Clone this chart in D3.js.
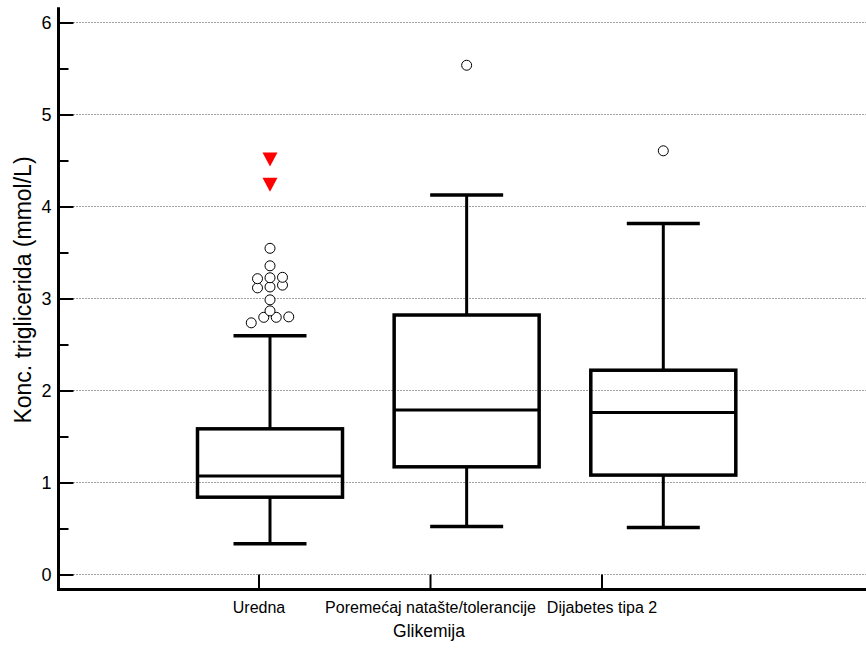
<!DOCTYPE html>
<html>
<head>
<meta charset="utf-8">
<script src="https://cdn.jsdelivr.net/npm/d3@7"></script>
<style>
  body { margin: 0; background: #fff; }
  svg { display: block; font-family: "Liberation Sans", Arial, sans-serif; }
</style>
</head>
<body>
<svg id="chart" width="866" height="648"></svg>
<script>
// ---- data ----
const categories = ["Uredna", "Poremećaj natašte/tolerancije", "Dijabetes tipa 2"];
const lowerWhisker = [0.33, 0.515, 0.505];
const q1 = [0.835, 1.165, 1.075];
const median = [1.065, 1.783, 1.755];
const q3 = [1.578, 2.815, 2.215];
const upperWhisker = [2.59, 4.12, 3.81];
const outliers = [
  [2.73, 2.79, 2.79, 2.795, 2.86, 2.98, 3.11, 3.12, 3.14, 3.21, 3.22, 3.225, 3.35, 3.54],
  [5.53],
  [4.60]
];
const extremes = [[4.23, 4.505], [], []];
const yTicks = [0, 1, 2, 3, 4, 5, 6];
const yMinorTicks = [0.5, 1.5, 2.5, 3.5, 4.5, 5.5];
const yTitle = "Konc. triglicerida (mmol/L)";
const xTitle = "Glikemija";

// ---- layout ----
const svg = d3.select("#chart");
const axisX = 58.5, axisY = 589.5, rightEdge = 866;
const y = d3.scaleLinear().domain([0, 6]).range([574, 22]);
const yTop = y(6.16);
const idx = categories.map((d, i) => i);
const xBox = d3.scaleLinear().domain([0, 2]).range([270, 663.3]);
const xLab = d3.scaleLinear().domain([0, 2]).range([258, 601]);
const boxW = 145, capW = 73;
const FONT = "Liberation Sans, Arial, sans-serif";

// gridlines
svg.append("g").selectAll("line").data(yTicks).join("line")
  .attr("x1", axisX + 15).attr("x2", rightEdge)
  .attr("y1", d => y(d) + 0.5).attr("y2", d => y(d) + 0.5)
  .attr("stroke", "#444").attr("stroke-width", 1).attr("stroke-dasharray", "1,2");

// y axis (major ticks inside, labels left)
const yAxis = d3.axisLeft(y).tickValues(yTicks).tickSizeInner(-15).tickSizeOuter(0).tickPadding(7).tickFormat(d3.format("d"));
const gy = svg.append("g").attr("transform", `translate(${axisX},0.5)`).call(yAxis);
gy.select(".domain").remove();
gy.selectAll(".tick line").attr("stroke", "#000").attr("stroke-width", 2);
gy.selectAll(".tick text").attr("font-size", 18).attr("fill", "#000").attr("font-family", FONT);

const yMinor = d3.axisLeft(y).tickValues(yMinorTicks).tickSizeInner(-10).tickSizeOuter(0).tickFormat("");
const gym = svg.append("g").attr("transform", `translate(${axisX},0.5)`).call(yMinor);
gym.select(".domain").remove();
gym.selectAll(".tick line").attr("stroke", "#000").attr("stroke-width", 2);

// x axis
const xAxis = d3.axisBottom(xLab).tickValues(idx).tickSizeInner(-15).tickSizeOuter(0).tickPadding(12).tickFormat(i => categories[i]);
const gx = svg.append("g").attr("transform", `translate(0.5,${axisY})`).call(xAxis);
gx.select(".domain").remove();
gx.selectAll(".tick line").attr("stroke", "#000").attr("stroke-width", 2);
gx.selectAll(".tick text").attr("font-size", 16).attr("fill", "#000").attr("font-family", FONT);

// axis lines
svg.append("line").attr("x1", axisX).attr("x2", axisX).attr("y1", yTop).attr("y2", axisY + 1.5)
  .attr("stroke", "#000").attr("stroke-width", 3);
svg.append("line").attr("x1", axisX - 1.5).attr("x2", rightEdge).attr("y1", axisY).attr("y2", axisY)
  .attr("stroke", "#000").attr("stroke-width", 3);

// titles
svg.append("text").attr("transform", `translate(31,290) rotate(-90)`)
  .attr("text-anchor", "middle").attr("font-size", 23).attr("fill", "#000").text(yTitle);
svg.append("text").attr("x", 429).attr("y", 637)
  .attr("text-anchor", "middle").attr("font-size", 17.5).attr("fill", "#000").text(xTitle);

// boxes
const g = svg.append("g");
idx.forEach(i => {
  const cx = xBox(i);
  // whiskers
  g.append("line").attr("x1", cx).attr("x2", cx).attr("y1", y(upperWhisker[i])).attr("y2", y(q3[i]))
    .attr("stroke", "#000").attr("stroke-width", 3);
  g.append("line").attr("x1", cx).attr("x2", cx).attr("y1", y(q1[i])).attr("y2", y(lowerWhisker[i]))
    .attr("stroke", "#000").attr("stroke-width", 3);
  [upperWhisker[i], lowerWhisker[i]].forEach(v => {
    g.append("line").attr("x1", cx - capW / 2).attr("x2", cx + capW / 2).attr("y1", y(v)).attr("y2", y(v))
      .attr("stroke", "#000").attr("stroke-width", 3.5);
  });
  g.append("rect").attr("x", cx - boxW / 2).attr("width", boxW)
    .attr("y", y(q3[i])).attr("height", y(q1[i]) - y(q3[i]))
    .attr("fill", "none").attr("stroke", "#000").attr("stroke-width", 3.5);
  g.append("line").attr("x1", cx - boxW / 2).attr("x2", cx + boxW / 2).attr("y1", y(median[i])).attr("y2", y(median[i]))
    .attr("stroke", "#000").attr("stroke-width", 3);

  // outliers: bin by 0.1 and spread horizontally within bin
  const bins = d3.groups(outliers[i].slice().sort(d3.ascending), v => Math.floor(v * 10));
  bins.forEach(([, vals]) => {
    vals.forEach((v, k) => {
      g.append("circle").attr("cx", cx + (k - (vals.length - 1) / 2) * 12.5).attr("cy", y(v))
        .attr("r", 5).attr("fill", "#fff").attr("stroke", "#000").attr("stroke-width", 1);
    });
  });
  extremes[i].forEach(v => {
    const yy = y(v);
    g.append("path")
      .attr("d", `M${cx - 7.5},${yy - 7} L${cx + 7.5},${yy - 7} L${cx},${yy + 7} Z`)
      .attr("fill", "#ff0000");
  });
});
</script>
</body>
</html>
